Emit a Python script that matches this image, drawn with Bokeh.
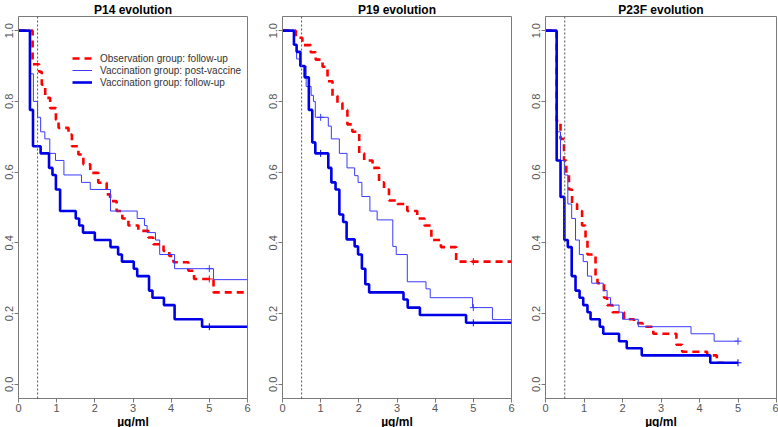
import math
from bokeh.plotting import figure
from bokeh.layouts import row
from bokeh.models import Span, Legend, LegendItem, Range1d, PrintfTickFormatter, FixedTicker
from bokeh.embed import file_html
from bokeh.resources import INLINE

# ---------------- data ----------------
titles = ["P14 evolution", "P19 evolution", "P23F evolution"]
series_labels = ["Observation group: follow-up",
                 "Vaccination group: post-vaccine",
                 "Vaccination group: follow-up"]
x_ticks = [0, 1, 2, 3, 4, 5, 6]
y_ticks = [0.0, 0.2, 0.4, 0.6, 0.8, 1.0]
threshold = 0.5

# P14
p14_obs_t = [0, 0.37, 0.54, 0.61, 0.70, 0.83, 0.98, 1.05, 1.31, 1.40, 1.57, 1.70, 1.88, 2.09,
             2.31, 2.40, 2.57, 2.72, 2.88, 3.14, 3.40, 3.53, 3.80, 3.95, 4.06, 4.45, 4.60, 5.11]
p14_obs_s = [1.0, 0.905, 0.884, 0.847, 0.81, 0.781, 0.748, 0.725, 0.706, 0.673, 0.65, 0.622, 0.598, 0.57,
             0.537, 0.518, 0.49, 0.469, 0.449, 0.434, 0.415, 0.396, 0.377, 0.363, 0.345, 0.321, 0.298, 0.26]
p14_obs_end = 6.0
p14_obs_cens = [5.0]

p14_post_t = [0, 0.30, 0.39, 0.50, 0.58, 0.69, 0.82, 0.97, 1.19, 1.65, 1.88, 2.41, 3.11, 3.30,
              3.37, 3.59, 3.70, 4.09, 5.11]
p14_post_s = [1.0, 0.878, 0.80, 0.755, 0.714, 0.694, 0.653, 0.633, 0.592, 0.571, 0.551, 0.49, 0.469, 0.449,
              0.429, 0.408, 0.367, 0.327, 0.296]
p14_post_end = 6.0
p14_post_cens = [5.0]

p14_fu_t = [0, 0.30, 0.38, 0.58, 0.80, 0.89, 0.98, 1.09, 1.50, 1.59, 1.69, 2.00, 2.41, 2.61, 2.71,
            3.02, 3.11, 3.42, 3.51, 3.81, 4.09, 4.81]
p14_fu_s = [1.0, 0.776, 0.673, 0.653, 0.612, 0.592, 0.551, 0.49, 0.469, 0.449, 0.429, 0.408, 0.388, 0.367, 0.347,
            0.327, 0.306, 0.265, 0.245, 0.224, 0.184, 0.163]
p14_fu_end = 6.0
p14_fu_cens = [5.0]

# P19
p19_obs_t = [0, 0.35, 0.52, 0.74, 0.87, 1.05, 1.18, 1.31, 1.44, 1.57, 1.70, 1.83, 2.01, 2.14,
             2.36, 2.53, 2.66, 2.79, 3.01, 3.27, 3.53, 3.72, 3.90, 4.15, 4.55]
p19_obs_s = [1.0, 0.98, 0.959, 0.939, 0.918, 0.898, 0.857, 0.816, 0.796, 0.776, 0.735, 0.714, 0.653, 0.633,
             0.612, 0.571, 0.551, 0.52, 0.51, 0.49, 0.469, 0.449, 0.408, 0.388, 0.347]
p19_obs_end = 6.0
p19_obs_cens = [5.0]

p19_post_t = [0, 0.30, 0.37, 0.45, 0.62, 0.75, 0.81, 0.86, 1.20, 1.28, 1.49, 1.69, 1.89, 1.98,
              2.08, 2.29, 2.48, 2.89, 2.98, 3.27, 3.76, 3.87, 4.98, 5.50]
p19_post_s = [1.0, 0.96, 0.92, 0.90, 0.842, 0.817, 0.80, 0.755, 0.73, 0.694, 0.653, 0.612, 0.59, 0.571,
              0.531, 0.49, 0.465, 0.39, 0.367, 0.29, 0.27, 0.245, 0.217, 0.183]
p19_post_end = 6.0
p19_post_cens = [1.0, 5.0]

p19_fu_t = [0, 0.30, 0.37, 0.47, 0.58, 0.69, 0.78, 0.86, 1.20, 1.28, 1.39, 1.49, 1.59, 1.68,
            1.89, 1.98, 2.08, 2.17, 2.27, 3.17, 3.28, 3.60, 4.81]
p19_fu_s = [1.0, 0.96, 0.94, 0.90, 0.868, 0.776, 0.684, 0.653, 0.612, 0.571, 0.551, 0.48, 0.459, 0.41,
            0.39, 0.367, 0.327, 0.283, 0.26, 0.24, 0.217, 0.196, 0.174]
p19_fu_end = 6.0
p19_fu_cens = [1.0, 5.0]

# P23F
p23_obs_t = [0, 0.29, 0.39, 0.48, 0.54, 0.61, 0.69, 0.82, 0.95, 1.04, 1.09, 1.30, 1.35, 1.52,
             1.60, 1.74, 2.04, 2.30, 2.52, 2.80, 3.40, 3.55, 4.20, 4.45]
p23_obs_s = [1.0, 0.745, 0.694, 0.633, 0.592, 0.551, 0.51, 0.49, 0.449, 0.408, 0.367, 0.306, 0.286, 0.245,
             0.224, 0.204, 0.184, 0.173, 0.163, 0.143, 0.112, 0.092, 0.082, 0.061]
p23_obs_end = 4.62
p23_obs_cens = []

p23_post_t = [0, 0.29, 0.39, 0.49, 0.58, 0.68, 0.78, 0.88, 0.98, 1.09, 1.20, 1.50, 1.60, 1.69,
              1.91, 2.00, 2.41, 3.78, 4.38]
p23_post_s = [1.0, 0.714, 0.633, 0.592, 0.51, 0.469, 0.408, 0.367, 0.347, 0.306, 0.286, 0.265, 0.245, 0.224,
              0.204, 0.184, 0.163, 0.143, 0.122]
p23_post_end = 5.0
p23_post_cens = [5.0]

p23_fu_t = [0, 0.29, 0.39, 0.49, 0.58, 0.68, 0.78, 0.885, 0.98, 1.09, 1.17, 1.41, 1.50, 1.91,
            2.11, 2.50, 4.28]
p23_fu_s = [1.0, 0.633, 0.53, 0.408, 0.388, 0.306, 0.265, 0.245, 0.224, 0.204, 0.184, 0.163, 0.143, 0.122,
            0.102, 0.082, 0.061]
p23_fu_end = 5.0
p23_fu_cens = [5.0]

panels = [
    [(p14_obs_t, p14_obs_s, p14_obs_end, p14_obs_cens),
     (p14_post_t, p14_post_s, p14_post_end, p14_post_cens),
     (p14_fu_t, p14_fu_s, p14_fu_end, p14_fu_cens)],
    [(p19_obs_t, p19_obs_s, p19_obs_end, p19_obs_cens),
     (p19_post_t, p19_post_s, p19_post_end, p19_post_cens),
     (p19_fu_t, p19_fu_s, p19_fu_end, p19_fu_cens)],
    [(p23_obs_t, p23_obs_s, p23_obs_end, p23_obs_cens),
     (p23_post_t, p23_post_s, p23_post_end, p23_post_cens),
     (p23_fu_t, p23_fu_s, p23_fu_end, p23_fu_cens)],
]

# ---------------- styles ----------------
FONT = "Liberation Sans"
styles = [
    dict(color="#ff0000", width=2.6, dash="7 5"),
    dict(color="#3a3aff", width=1.0, dash="solid"),
    dict(color="#0000e6", width=2.6, dash="solid"),
]
frame_widths = [229, 229, 231]
left_borders = [18, 20, 20]
right_borders = [15, 14, 2]
FRAME_H = 382


def step_value(t, s, x):
    v = s[0]
    for ti, si in zip(t, s):
        if ti <= x:
            v = si
    return v


figs = []
for k, (title, series) in enumerate(zip(titles, panels)):
    p = figure(frame_width=frame_widths[k], frame_height=FRAME_H,
               x_range=Range1d(0, 6), y_range=Range1d(-0.04, 1.04),
               output_backend="svg", toolbar_location=None, title=title,
               min_border_left=left_borders[k], min_border_right=right_borders[k],
               min_border_top=0, min_border_bottom=0)
    p.title.align = "center"
    p.title.text_font = FONT
    p.title.text_font_size = "12px"
    p.title.text_font_style = "bold"
    p.title.text_color = "#000000"
    p.title.standoff = 0
    p.grid.visible = False
    p.outline_line_color = "#7a7a7a"
    p.outline_line_width = 1
    p.background_fill_color = "white"
    p.border_fill_color = "white"

    for ax in (p.xaxis[0], p.yaxis[0]):
        ax.axis_line_color = "#7a7a7a"
        ax.major_tick_line_color = "#7a7a7a"
        ax.minor_tick_line_color = None
        ax.major_tick_in = 0
        ax.major_tick_out = 4
        ax.major_label_text_font = FONT
        ax.major_label_text_font_size = "11px"
        ax.major_label_text_color = "#555555"
        ax.major_label_standoff = 1
    p.xaxis.ticker = FixedTicker(ticks=x_ticks)
    p.yaxis.ticker = FixedTicker(ticks=y_ticks)
    p.yaxis.formatter = PrintfTickFormatter(format="%.1f")
    p.yaxis.major_label_orientation = "vertical"
    p.xaxis.axis_label = "µg/ml"
    p.xaxis.axis_label_text_font = FONT
    p.xaxis.axis_label_text_font_size = "12px"
    p.xaxis.axis_label_text_font_style = "bold"
    p.xaxis.axis_label_text_color = "#000000"
    p.xaxis.axis_label_standoff = 0

    p.add_layout(Span(location=threshold, dimension="height", line_color="#555555",
                      line_width=1, line_dash="2 2"))

    renderers = []
    for (t, s, end, cens), st in zip(series, styles):
        xs = list(t) + [end]
        ys = list(s) + [s[-1]]
        r = p.step(xs, ys, mode="after", line_color=st["color"], line_width=st["width"],
                   line_dash=st["dash"])
        renderers.append(r)
        if cens:
            cy = [step_value(t, s, c) for c in cens]
            p.scatter(cens, cy, marker="cross", size=7, line_color=st["color"], line_width=1)

    if k == 0:
        items = [LegendItem(label=lab, renderers=[r]) for lab, r in zip(series_labels, renderers)]
        leg = Legend(items=items, location=(54, 310))
        leg.label_text_font = FONT
        leg.label_text_font_size = "10px"
        leg.label_text_color = "#333333"
        leg.glyph_width = 20
        leg.glyph_height = 12
        leg.label_height = 12
        leg.label_standoff = 8
        leg.spacing = 0
        leg.padding = 0
        leg.margin = 0
        leg.border_line_alpha = 0
        leg.background_fill_alpha = 0
        p.add_layout(leg)
    figs.append(p)

layout = row(*figs)
open("out.html", "w").write(file_html(layout, INLINE))
